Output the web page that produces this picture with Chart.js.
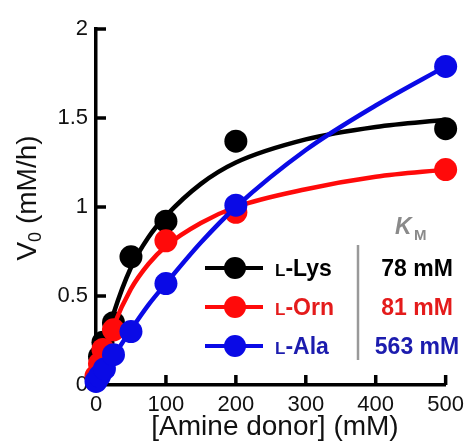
<!DOCTYPE html>
<html>
<head>
<meta charset="utf-8">
<script src="https://cdn.jsdelivr.net/npm/chart.js@4.4.1/dist/chart.umd.min.js"></script>
<style>
  html, body { margin: 0; padding: 0; background: #fff; }
  #wrap { width: 471px; height: 447px; }
</style>
</head>
<body>
<div id="wrap"><canvas id="chart" width="471" height="447"></canvas></div>
<script>
/* V0 vs amine donor concentration, three substrates */
const xTicks = [0, 100, 200, 300, 400, 500];
const yTicks = [0, 0.5, 1, 1.5, 2];

// measured points
const lysX = [5, 10, 25, 50, 100, 200, 500];
const lysV = [0.16, 0.24, 0.35, 0.72, 0.92, 1.37, 1.44];
const ornX = [0, 5, 10, 25, 100, 200, 500];
const ornV = [0.05, 0.12, 0.20, 0.31, 0.81, 0.97, 1.21];
const alaX = [0, 5, 12, 25, 50, 100, 200, 500];
const alaV = [0.02, 0.05, 0.09, 0.17, 0.30, 0.57, 1.01, 1.79];

// fitted curves at these concentrations
const fitX   = [0, 10, 25, 50, 75, 100, 150, 200, 300, 400, 500];
const lysFit = [0, 0.19, 0.40, 0.66, 0.83, 0.95, 1.13, 1.25, 1.38, 1.45, 1.49];
const ornFit = [0, 0.15, 0.33, 0.54, 0.68, 0.78, 0.91, 1.00, 1.10, 1.17, 1.21];
const alaFit = [0, 0.07, 0.16, 0.31, 0.45, 0.57, 0.80, 1.00, 1.32, 1.57, 1.79];

const names = ['Lys', 'Orn', 'Ala'];
const kmText = ['78 mM', '81 mM', '563 mM'];

const FONT = "'Liberation Sans', Arial, Helvetica, sans-serif";
const colors = ['#000000', '#ff0a0a', '#0a0ae6'];
const textColors = ['#000000', '#e41b1b', '#1c1cae'];

const pts = (xs, ys) => xs.map((x, i) => ({ x, y: ys[i] }));

const curve = (data, color, order) => ({
  data, showLine: true, borderColor: color, borderWidth: 4.5,
  pointRadius: 0, cubicInterpolationMode: 'monotone', clip: false, order
});
const dots = (data, color, order) => ({
  data, showLine: false, backgroundColor: color, borderColor: color,
  borderWidth: 0, pointRadius: 11.5, clip: false, order
});

const innerTicks = {
  id: 'innerTicks',
  beforeDatasetsDraw(c) {
    const { ctx, scales: { x, y } } = c;
    ctx.save();
    ctx.strokeStyle = '#000';
    ctx.lineWidth = 3.5;
    yTicks.forEach(v => {
      const py = y.getPixelForValue(v);
      ctx.beginPath(); ctx.moveTo(x.left, py); ctx.lineTo(x.left + 10, py); ctx.stroke();
    });
    xTicks.forEach(v => {
      const px = x.getPixelForValue(v);
      ctx.beginPath(); ctx.moveTo(px, y.bottom); ctx.lineTo(px, y.bottom - 10); ctx.stroke();
    });
    ctx.restore();
  }
};

const annotations = {
  id: 'annotations',
  afterDraw(c) {
    const ctx = c.ctx;
    ctx.save();
    // x title
    ctx.fillStyle = '#111';
    ctx.font = `28px ${FONT}`;
    ctx.textAlign = 'center';
    ctx.textBaseline = 'middle';
    ctx.fillText('[Amine donor] (mM)', 275, 427);

    // y title with subscript
    ctx.save();
    ctx.translate(28, 198);
    ctx.rotate(-Math.PI / 2);
    ctx.textAlign = 'left';
    const big = `28px ${FONT}`, small = `18px ${FONT}`;
    ctx.font = big;  const wV = ctx.measureText('V').width;
    ctx.font = small; const w0 = ctx.measureText('0').width;
    ctx.font = big;  const wR = ctx.measureText(' (mM/h)').width;
    let sx = -(wV + w0 + wR) / 2;
    ctx.font = big;  ctx.fillText('V', sx, 0); sx += wV;
    ctx.font = small; ctx.fillText('0', sx, 8); sx += w0;
    ctx.font = big;  ctx.fillText(' (mM/h)', sx, 0);
    ctx.restore();

    // K_M header
    ctx.fillStyle = '#8a8a8a';
    ctx.textAlign = 'left';
    ctx.font = `italic bold 23px ${FONT}`;
    ctx.fillText('K', 395, 228);
    ctx.font = `bold 15px ${FONT}`;
    ctx.fillText('M', 414, 236);

    // separator
    ctx.strokeStyle = '#999';
    ctx.lineWidth = 2.5;
    ctx.beginPath(); ctx.moveTo(358, 245); ctx.lineTo(358, 360); ctx.stroke();

    // legend rows
    const rows = [268, 307, 346];
    rows.forEach((ry, i) => {
      ctx.strokeStyle = colors[i];
      ctx.lineWidth = 4;
      ctx.beginPath(); ctx.moveTo(205, ry); ctx.lineTo(263, ry); ctx.stroke();
      ctx.fillStyle = colors[i];
      ctx.beginPath(); ctx.arc(235, ry, 11, 0, Math.PI * 2); ctx.fill();

      ctx.fillStyle = textColors[i];
      ctx.textAlign = 'left';
      ctx.textBaseline = 'alphabetic';
      const base = ry + 8;
      ctx.font = `bold 17px ${FONT}`;
      ctx.fillText('L', 275, base);
      const wl = ctx.measureText('L').width;
      ctx.font = `bold 23px ${FONT}`;
      ctx.fillText('-' + names[i], 275 + wl, base);

      ctx.textAlign = 'center';
      ctx.fillText(kmText[i], 417, base);
    });
    ctx.restore();
  }
};

new Chart(document.getElementById('chart'), {
  type: 'scatter',
  data: {
    datasets: [
      curve(pts(fitX, alaFit), colors[2], 1),
      dots(pts(alaX, alaV), colors[2], 0),
      curve(pts(fitX, ornFit), colors[1], 3),
      dots(pts(ornX, ornV), colors[1], 2),
      curve(pts(fitX, lysFit), colors[0], 5),
      dots(pts(lysX, lysV), colors[0], 4)
    ]
  },
  options: {
    responsive: false,
    animation: false,
    devicePixelRatio: 1,
    layout: { padding: { top: 29, right: 22, left: 0, bottom: 0 } },
    plugins: { legend: { display: false }, tooltip: { enabled: false } },
    scales: {
      x: {
        type: 'linear', min: 0, max: 500,
        afterBuildTicks: (s) => { s.ticks = xTicks.map(v => ({ value: v })); },
        afterFit: (s) => { s.height = 62; },
        grid: { drawOnChartArea: false, drawTicks: false },
        border: { display: true, color: '#000', width: 3.5 },
        ticks: { color: '#111', font: { family: FONT, size: 22 }, padding: 7, maxRotation: 0 }
      },
      y: {
        type: 'linear', min: 0, max: 2,
        afterBuildTicks: (s) => { s.ticks = yTicks.map(v => ({ value: v })); },
        afterFit: (s) => { s.width = 96; },
        grid: { drawOnChartArea: false, drawTicks: false },
        border: { display: true, color: '#000', width: 3.5 },
        ticks: { color: '#111', font: { family: FONT, size: 22 }, padding: 8, callback: (v) => String(v) }
      }
    }
  },
  plugins: [innerTicks, annotations]
});
</script>
</body>
</html>
